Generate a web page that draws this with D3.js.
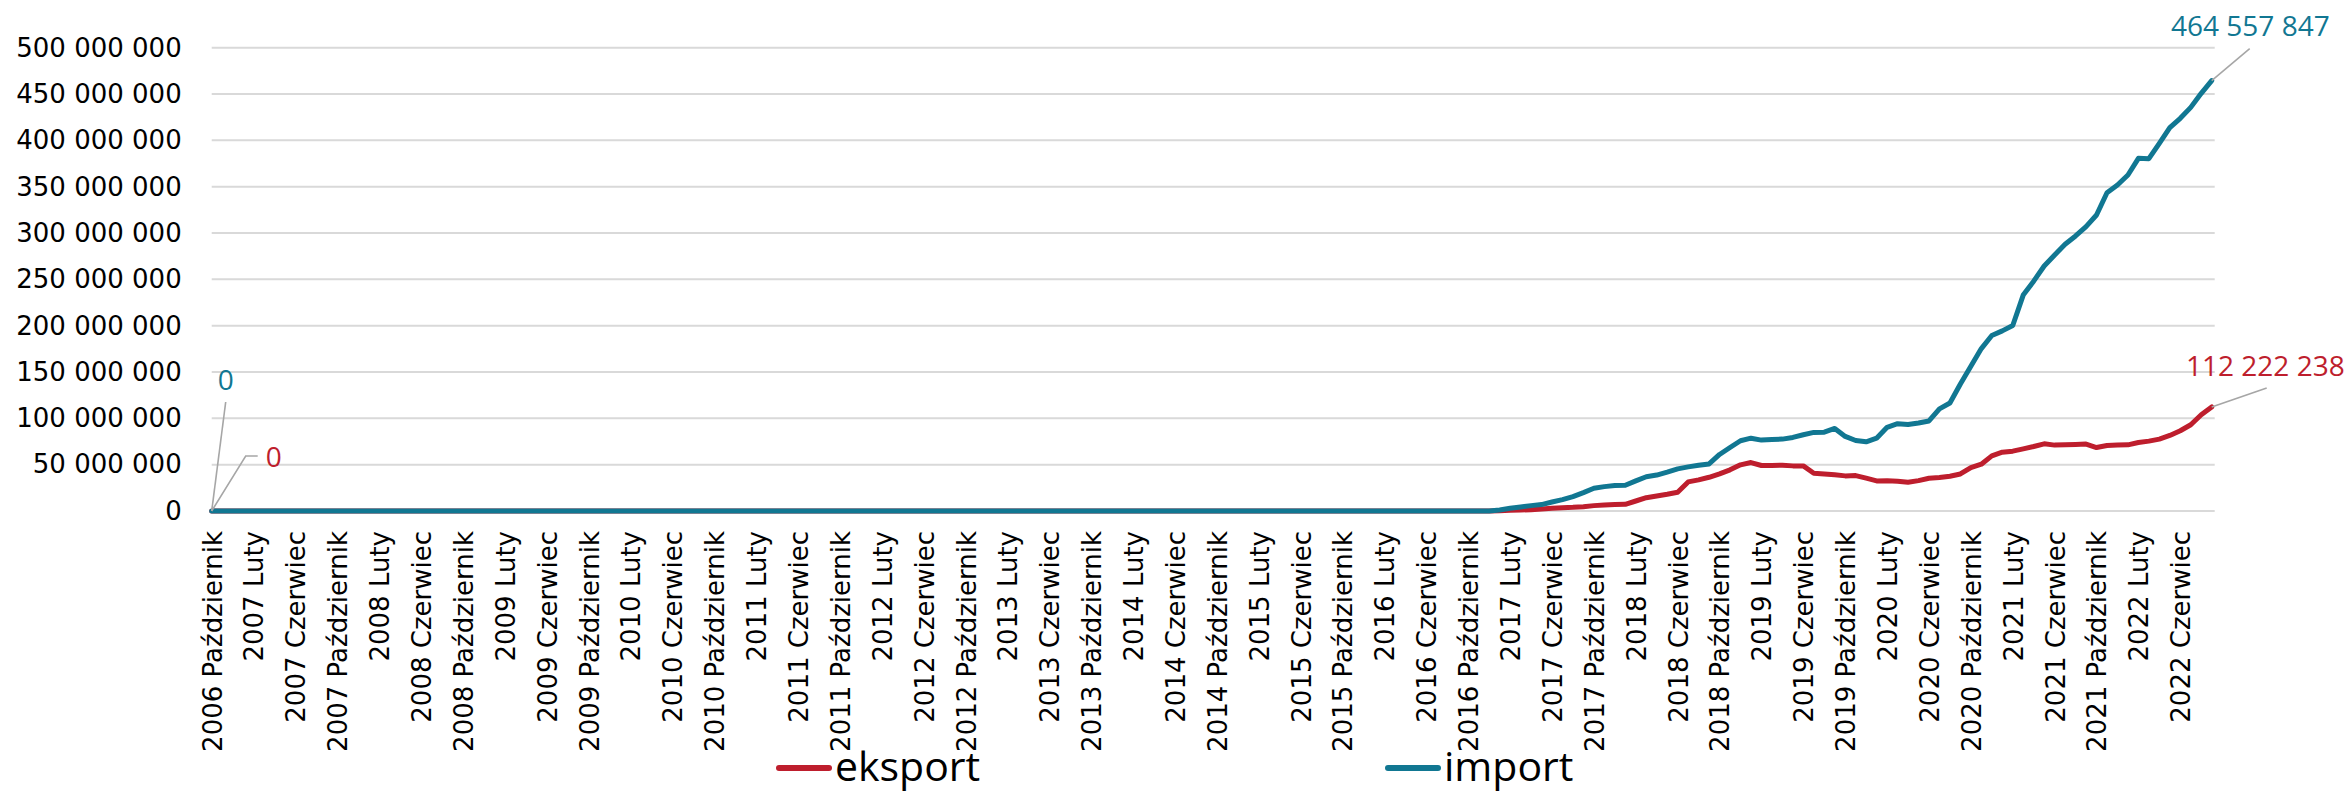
<!DOCTYPE html>
<html>
<head>
<meta charset="utf-8">
<script src="https://cdn.jsdelivr.net/npm/d3@7"></script>
<style>
  html, body { margin: 0; padding: 0; background: #fff; }
  svg { display: block; }
</style>
</head>
<body>
<svg id="chart" width="2346" height="792"></svg>
<script>
// ---------------- DATA ----------------
const startYear = 2006, startMonth = 9; // October 2006 (0-based month)
const monthNames = ["Styczeń","Luty","Marzec","Kwiecień","Maj","Czerwiec","Lipiec","Sierpień","Wrzesień","Październik","Listopad","Grudzień"];
const monthCount = 192; // Oct 2006 .. Sep 2022

// values in millions
const importValues = [
  0,0,0,0,0,0,0,0,0,0,0,0,0,0,0,0,0,0,0,0,
  0,0,0,0,0,0,0,0,0,0,0,0,0,0,0,0,0,0,0,0,
  0,0,0,0,0,0,0,0,0,0,0,0,0,0,0,0,0,0,0,0,
  0,0,0,0,0,0,0,0,0,0,0,0,0,0,0,0,0,0,0,0,
  0,0,0,0,0,0,0,0,0,0,0,0,0,0,0,0,0,0,0,0,
  0,0,0,0,0,0,0,0,0,0,0,0,0,0,0,0,0,0,0,0,
  0,0,0,
  1.0, 2.9, 4.3, 5.8, 6.9, 9.7, 12.3, 15.5, 19.8, 24.5,
  26.3, 27.4, 27.8, 32.5, 37.0, 38.8, 42.0, 45.5, 47.6, 49.4,
  50.8, 61.0, 68.5, 75.8, 78.6, 76.5, 77.2, 77.6, 79.4, 82.3,
  84.8, 85.1, 89.1, 80.5, 76.1, 74.7, 78.6, 90.3, 94.2, 93.4,
  95.0, 97.2, 110.2, 116.5, 137.1, 156.2, 175.3, 189.4, 194.4, 200.2,
  233.0, 248.0, 264.4, 276.3, 287.8, 296.8, 306.9, 319.4, 343.5, 351.8,
  362.6, 380.6, 380.2, 396.8, 413.7, 423.8, 435.6, 450.8, 464.557847
];
const eksportValues = [
  0,0,0,0,0,0,0,0,0,0,0,0,0,0,0,0,0,0,0,0,
  0,0,0,0,0,0,0,0,0,0,0,0,0,0,0,0,0,0,0,0,
  0,0,0,0,0,0,0,0,0,0,0,0,0,0,0,0,0,0,0,0,
  0,0,0,0,0,0,0,0,0,0,0,0,0,0,0,0,0,0,0,0,
  0,0,0,0,0,0,0,0,0,0,0,0,0,0,0,0,0,0,0,0,
  0,0,0,0,0,0,0,0,0,0,0,0,0,0,0,0,0,0,0,0,
  0,0,0,
  0.4, 0.7, 1.1, 1.4, 2.2, 2.9, 3.6, 4.0, 4.7, 5.8,
  6.5, 6.9, 7.2, 10.8, 14.4, 16.2, 18.0, 20.2, 31.4, 33.6,
  36.4, 40.0, 44.4, 49.8, 52.3, 49.1, 49.1, 49.4, 48.7, 48.7,
  40.8, 40.0, 39.0, 37.9, 38.2, 35.4, 32.5, 32.6, 32.1, 31.0,
  32.8, 35.4, 36.1, 37.5, 40.0, 46.9, 50.5, 59.5, 63.5, 64.6,
  67.1, 69.6, 72.5, 71.1, 71.4, 71.8, 72.2, 68.5, 70.7, 71.1,
  71.4, 73.9, 75.4, 77.6, 81.5, 86.6, 93.1, 103.9, 112.222238
];

const tickLabels = [
  "2006 Październik",
  "2007 Luty","2007 Czerwiec","2007 Październik",
  "2008 Luty","2008 Czerwiec","2008 Październik",
  "2009 Luty","2009 Czerwiec","2009 Październik",
  "2010 Luty","2010 Czerwiec","2010 Październik",
  "2011 Luty","2011 Czerwiec","2011 Październik",
  "2012 Luty","2012 Czerwiec","2012 Październik",
  "2013 Luty","2013 Czerwiec","2013 Październik",
  "2014 Luty","2014 Czerwiec","2014 Październik",
  "2015 Luty","2015 Czerwiec","2015 Październik",
  "2016 Luty","2016 Czerwiec","2016 Październik",
  "2017 Luty","2017 Czerwiec","2017 Październik",
  "2018 Luty","2018 Czerwiec","2018 Październik",
  "2019 Luty","2019 Czerwiec","2019 Październik",
  "2020 Luty","2020 Czerwiec","2020 Październik",
  "2021 Luty","2021 Czerwiec","2021 Październik",
  "2022 Luty","2022 Czerwiec"
];
const yTickValues = [0, 50, 100, 150, 200, 250, 300, 350, 400, 450, 500]; // millions
const seriesNames = ["eksport", "import"];
const seriesColors = { eksport: "#BE1E2D", import: "#117792" };

// categories (month labels)
const categories = [];
for (let k = 0; k < monthCount; k++) {
  const m = (startMonth + k) % 12;
  const yr = startYear + Math.floor((startMonth + k) / 12);
  categories.push(yr + " " + monthNames[m]);
}

// ---------------- CHART ----------------
const svg = d3.select("#chart");
const W = 2346, H = 792;
svg.append("rect").attr("width", W).attr("height", H).attr("fill", "#fff");

const plotLeft = 211.7, plotRight = 2211.7, plotTop = 47.7, plotBottom = 511;

const x = d3.scalePoint().domain(categories).range([plotLeft, plotRight]);
const y = d3.scaleLinear().domain([0, 500e6]).range([plotBottom, plotTop]);

const locale = d3.formatLocale({ decimal: ",", thousands: " ", grouping: [3], currency: ["", ""] });
const fmt = locale.format(",d");

// gridlines
svg.append("g").selectAll("line")
  .data(yTickValues)
  .join("line")
  .attr("x1", plotLeft).attr("x2", plotRight + 3)
  .attr("y1", d => y(d * 1e6)).attr("y2", d => y(d * 1e6))
  .attr("stroke", "#D9D9D9").attr("stroke-width", 2);

// y axis
const yAxis = svg.append("g")
  .attr("transform", `translate(${plotLeft},0)`)
  .call(d3.axisLeft(y).tickValues(yTickValues.map(v => v * 1e6)).tickSize(0).tickPadding(30).tickFormat(fmt));
yAxis.select(".domain").remove();
yAxis.selectAll("text")
  .attr("font-family", "DejaVu Sans")
  .attr("font-size", 26)
  .attr("fill", "#000");

// x axis
const tickCats = categories.filter(c => tickLabels.includes(c));
const xAxis = svg.append("g")
  .attr("transform", `translate(0,${plotBottom})`)
  .call(d3.axisBottom(x).tickValues(tickCats).tickSize(0));
xAxis.select(".domain").remove();
xAxis.selectAll("text")
  .attr("transform", "rotate(-90)")
  .attr("x", -20).attr("y", 0).attr("dy", "0.36em")
  .style("text-anchor", "end")
  .attr("font-family", "DejaVu Sans")
  .attr("font-size", 26)
  .attr("fill", "#000");

// lines
const series = {
  eksport: eksportValues,
  import: importValues
};
const line = d3.line()
  .x((d, i) => x(categories[i]))
  .y(d => y(d * 1e6));

seriesNames.forEach(name => {
  svg.append("path")
    .datum(series[name])
    .attr("d", line)
    .attr("fill", "none")
    .attr("stroke", seriesColors[name])
    .attr("stroke-width", 5)
    .attr("stroke-linejoin", "round")
    .attr("stroke-linecap", "round");
});

// data labels & leader lines
const labelFont = "'Open Sans', 'Noto Sans', sans-serif";
const leader = "#A6A6A6";
const last = monthCount - 1;

function pt(name, i) { return [x(categories[i]), y(series[name][i] * 1e6)]; }

// import last
{
  const [px, py] = pt("import", last);
  svg.append("line").attr("x1", px).attr("y1", py).attr("x2", px + 38).attr("y2", py - 32)
    .attr("stroke", leader).attr("stroke-width", 1.6);
  svg.append("text").attr("x", px + 118).attr("y", py - 45)
    .attr("text-anchor", "end")
    .attr("font-family", labelFont).attr("font-size", 28).attr("fill", seriesColors.import)
    .text(fmt(Math.round(series.import[last] * 1e6)));
}
// eksport last
{
  const [px, py] = pt("eksport", last);
  svg.append("line").attr("x1", px).attr("y1", py).attr("x2", px + 55).attr("y2", py - 19)
    .attr("stroke", leader).attr("stroke-width", 1.6);
  svg.append("text").attr("x", px + 133).attr("y", py - 31)
    .attr("text-anchor", "end")
    .attr("font-family", labelFont).attr("font-size", 28).attr("fill", seriesColors.eksport)
    .text(fmt(Math.round(series.eksport[last] * 1e6)));
}
// first points
{
  const [px, py] = pt("import", 0);
  svg.append("line").attr("x1", px).attr("y1", py).attr("x2", px + 14).attr("y2", py - 109)
    .attr("stroke", leader).attr("stroke-width", 1.6);
  svg.append("text").attr("x", px + 14).attr("y", py - 121)
    .attr("text-anchor", "middle")
    .attr("font-family", labelFont).attr("font-size", 28).attr("fill", seriesColors.import)
    .text(fmt(series.import[0]));
}
{
  const [px, py] = pt("eksport", 0);
  svg.append("polyline")
    .attr("points", `${px},${py} ${px + 34},${py - 55} ${px + 46},${py - 55}`)
    .attr("fill", "none").attr("stroke", leader).attr("stroke-width", 1.6);
  svg.append("text").attr("x", px + 54).attr("y", py - 44)
    .attr("text-anchor", "start")
    .attr("font-family", labelFont).attr("font-size", 28).attr("fill", seriesColors.eksport)
    .text(fmt(series.eksport[0]));
}

// legend
const legendItems = [
  { name: "eksport", x: 776 },
  { name: "import", x: 1385 }
];
const lg = svg.append("g");
legendItems.forEach(it => {
  lg.append("line")
    .attr("x1", it.x + 3).attr("x2", it.x + 53)
    .attr("y1", 768).attr("y2", 768)
    .attr("stroke", seriesColors[it.name]).attr("stroke-width", 6)
    .attr("stroke-linecap", "round");
  lg.append("text")
    .attr("x", it.x + 59).attr("y", 781)
    .attr("font-family", labelFont).attr("font-size", 41).attr("fill", "#000")
    .text(it.name);
});
</script>
</body>
</html>
